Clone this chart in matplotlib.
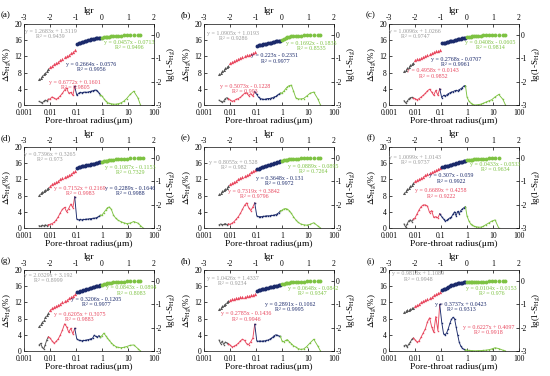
import matplotlib
matplotlib.use("Agg")
import matplotlib.pyplot as plt
from matplotlib.ticker import NullLocator

plt.rcParams['font.family'] = ['Liberation Serif', 'DejaVu Serif']
plt.rcParams['mathtext.fontset'] = 'stix'
plt.rcParams['axes.unicode_minus'] = False

# lgr of the injection steps, shared by all nine samples
LGR = [-2.42, -2.36, -2.30, -2.24, -2.18, -2.12, -2.06,
       -2.00, -1.92, -1.84, -1.76, -1.68, -1.60, -1.52, -1.44, -1.36, -1.28, -1.20, -1.12, -1.05,
       -0.97, -0.90, -0.84, -0.78, -0.72, -0.66, -0.60, -0.54, -0.48, -0.42, -0.36, -0.30,
       -0.24, -0.18, -0.12, -0.06,
       0.00, 0.07, 0.14, 0.21, 0.28, 0.36, 0.44, 0.53, 0.62, 0.72, 0.83, 0.95, 1.08, 1.22,
       1.38, 1.48, 1.58]
SEG = [7, 20, 36]  # first step of the red, navy and green parts

XTICKS = [0.001, 0.01, 0.1, 1, 10, 100]
XTICK_LABELS = ['0.001', '0.01', '0.1', '1', '10', '100']
PANELS = ['(a)', '(b)', '(c)', '(d)', '(e)', '(f)', '(g)', '(h)', '(i)']

# delta S_Hg (%) per step
ds_a = [0.9, 0.7, 0.5, 0.9, 1.2, 1.0, 1.4,
        1.5, 2.0, 1.7, 1.4, 1.8, 2.3, 2.9, 3.7, 4.2, 2.9, 3.1, 2.4, 4.6,
        2.4, 2.9, 3.1, 3.0, 3.1, 3.2, 3.1, 3.2, 3.3, 3.4, 3.5, 3.6, 3.7, 3.5, 3.0, 2.5,
        2.2, 1.6, 1.0, 0.6, 0.4, 0.3, 0.2, 0.2, 0.3, 0.5, 0.9, 1.6, 2.6, 3.4, 1.8, 0.0]
ds_b = [1.2, 0.9, 0.7, 1.0, 1.6, 1.8, 1.6,
        1.3, 0.9, 1.1, 1.4, 1.6, 1.9, 2.4, 2.9, 3.0, 2.3, 2.8, 2.2, 3.3,
        2.6, 1.9, 1.6, 1.5, 1.4, 1.4, 1.5, 1.6, 1.6, 1.7, 1.8, 2.0, 2.1, 2.4, 2.7, 2.9,
        3.0, 3.4, 4.0, 4.5, 4.8, 4.9, 3.5, 1.8, 1.5, 1.5, 1.6, 2.2, 2.9, 3.2, 1.5, 0.0]
ds_c = [1.1, 0.5, 0.9, 1.5, 1.8, 1.9, 1.7,
        1.6, 1.3, 1.6, 2.0, 2.4, 2.9, 3.5, 3.9, 3.2, 2.4, 3.6, 2.4, 4.0,
        1.8, 2.4, 2.2, 2.5, 2.8, 3.0, 3.2, 3.3, 3.5, 3.6, 3.5, 3.8, 4.0, 4.3, 4.7, 4.8,
        2.0, 1.0, 0.5, 0.2, 0.0, 0.0, 0.1, 0.2, 0.4, 0.7, 1.0, 1.3, 2.0, 2.6, 1.4, 0.0]
ds_d = [0.6, 0.4, 0.7, 0.5, 0.8, 0.6, 0.8,
        0.9, 1.1, 1.4, 2.0, 2.8, 3.8, 4.6, 5.1, 4.0, 4.8, 5.9, 5.0, 7.7,
        2.2, 2.0, 2.1, 2.0, 2.1, 2.1, 2.2, 2.2, 2.3, 2.3, 2.4, 2.4, 2.5, 2.6, 2.9, 3.1,
        3.2, 3.8, 4.4, 5.0, 5.2, 4.6, 3.2, 2.4, 1.9, 1.6, 1.3, 1.1, 1.2, 1.6, 1.2, 0.6, 0.0]
ds_e = [0.8, 1.0, 0.8, 0.9, 1.1, 0.8, 1.0,
        0.9, 1.2, 1.6, 2.2, 2.8, 3.6, 4.6, 5.6, 6.2, 5.0, 4.3, 5.2, 6.2,
        3.0, 2.8, 2.8, 2.8, 2.9, 2.9, 3.0, 3.0, 3.0, 3.1, 3.1, 3.2, 3.3, 3.5, 3.8, 4.2,
        4.4, 4.7, 4.8, 4.6, 4.3, 3.6, 2.8, 2.0, 1.4, 1.0, 0.8, 0.7, 0.9, 1.3, 0.5, 0.0]
ds_f = [1.0, 0.2, 1.0, 1.8, 2.0, 1.6, 2.2,
        2.5, 3.5, 4.5, 5.3, 5.7, 5.7, 5.4, 3.8, 4.3, 2.6, 2.8, 2.5, 3.5,
        2.8, 2.2, 1.7, 1.9, 2.2, 2.5, 2.7, 3.4, 4.0, 3.0, 4.1, 3.5, 4.3, 4.7, 5.0, 5.3,
        3.0, 1.8, 1.0, 0.7, 0.4, 0.3, 0.2, 0.2, 0.4, 0.8, 1.2, 1.7, 2.0, 0.0]
ds_g = [1.5, 1.9, 0.9, 0.5, 1.6, 2.8, 3.5,
        3.2, 2.5, 1.9, 2.4, 3.0, 4.0, 5.2, 6.7, 6.0, 4.6, 5.6, 4.2, 5.6,
        3.0, 2.7, 2.6, 2.5, 2.6, 2.6, 2.7, 2.8, 2.9, 3.0, 3.2, 3.9, 3.6, 3.4, 3.8, 3.5,
        3.8, 4.4, 3.8, 3.2, 2.6, 2.0, 1.5, 1.1, 0.9, 0.8, 0.9, 1.1, 1.4, 1.5, 0.6, 0.0]
ds_h = [2.7, 1.8, 2.4, 1.6, 2.2, 2.0, 1.8,
        1.5, 1.0, 1.2, 1.5, 1.9, 2.5, 2.9, 2.6, 1.8, 1.6, 2.3, 3.2, 6.6,
        2.5, 2.4, 2.5, 2.4, 2.5, 2.5, 2.6, 2.7, 2.9, 3.1, 3.4, 3.8, 4.0, 3.9, 3.7, 3.6,
        2.5, 2.3, 2.6, 2.8, 2.3, 1.8, 1.3, 1.0, 0.6, 0.4, 0.5, 1.1, 2.0, 2.9, 1.2, 0.0]
ds_i = [1.3, 1.5, 1.0, 1.7, 2.2, 2.9, 3.2,
        2.8, 2.2, 2.5, 3.5, 4.5, 5.5, 7.2, 8.2, 6.0, 4.6, 8.5, 5.0, 11.5,
        7.0, 4.2, 4.0, 4.5, 5.5, 6.8, 7.8, 8.3, 8.0, 6.0, 4.0, 2.2, 1.2, 0.7, 0.4, 0.3,
        0.2, 0.15, 0.1, 0.1, 0.05, 0.05, 0.1, 0.1, 0.15, 0.2, 0.3, 0.5, 0.8, 0.6, 0.2, 0.0]

# lg(1-S_Hg) per step
lg_a = [-1.90, -1.83, -1.76, -1.69, -1.62, -1.55, -1.48,
        -1.40, -1.33, -1.27, -1.21, -1.15, -1.09, -1.03, -0.97, -0.91, -0.85, -0.79, -0.73, -0.66,
        -0.40, -0.37, -0.345, -0.32, -0.30, -0.28, -0.26, -0.24, -0.22, -0.205, -0.19, -0.175,
        -0.16, -0.15, -0.14, -0.13,
        -0.125, -0.115, -0.105, -0.095, -0.085, -0.075, -0.066, -0.058, -0.051, -0.045, -0.039,
        -0.034, -0.03, -0.026, -0.023, -0.02]
lg_b = [-1.70, -1.63, -1.57, -1.50, -1.44, -1.38, -1.32,
        -1.22, -1.17, -1.13, -1.09, -1.05, -1.01, -0.97, -0.93, -0.89, -0.85, -0.81, -0.77, -0.74,
        -0.48, -0.46, -0.445, -0.43, -0.415, -0.40, -0.385, -0.37, -0.355, -0.34, -0.325, -0.31,
        -0.295, -0.28, -0.27, -0.26,
        -0.23, -0.18, -0.14, -0.11, -0.09, -0.075, -0.065, -0.055, -0.047, -0.04, -0.034,
        -0.028, -0.023, -0.018, -0.014, -0.01]
lg_c = [-1.55, -1.49, -1.43, -1.37, -1.31, -1.25, -1.19,
        -1.10, -1.06, -1.02, -0.98, -0.94, -0.90, -0.86, -0.82, -0.79, -0.75, -0.72, -0.68, -0.65,
        -0.38, -0.36, -0.34, -0.32, -0.30, -0.285, -0.27, -0.255, -0.24, -0.225, -0.21, -0.195,
        -0.18, -0.165, -0.15, -0.14,
        -0.12, -0.10, -0.085, -0.072, -0.062, -0.053, -0.046, -0.04, -0.034, -0.029, -0.024,
        -0.02, -0.016, -0.012, -0.008, -0.005]
lg_d = [-1.58, -1.53, -1.48, -1.43, -1.38, -1.33, -1.28,
        -1.20, -1.14, -1.08, -1.03, -0.98, -0.93, -0.88, -0.83, -0.78, -0.73, -0.68, -0.63, -0.58,
        -0.44, -0.42, -0.40, -0.38, -0.36, -0.345, -0.33, -0.315, -0.30, -0.285, -0.27, -0.255,
        -0.24, -0.225, -0.21, -0.195,
        -0.18, -0.16, -0.145, -0.13, -0.115, -0.10, -0.09, -0.08, -0.07, -0.06, -0.052,
        -0.045, -0.038, -0.032, -0.027, -0.022, -0.018]
lg_e = [-1.55, -1.49, -1.43, -1.38, -1.33, -1.28, -1.23,
        -1.13, -1.08, -1.03, -0.98, -0.93, -0.88, -0.83, -0.78, -0.73, -0.68, -0.63, -0.58, -0.53,
        -0.50, -0.47, -0.44, -0.415, -0.39, -0.365, -0.34, -0.32, -0.30, -0.28, -0.26, -0.24,
        -0.22, -0.20, -0.18, -0.16,
        -0.14, -0.12, -0.105, -0.09, -0.08, -0.07, -0.06, -0.052, -0.045, -0.038, -0.032,
        -0.027, -0.022, -0.018, -0.014, -0.01]
lg_f = [-1.50, -1.43, -1.36, -1.29, -1.22, -1.15, -1.08,
        -1.01, -0.96, -0.91, -0.86, -0.81, -0.76, -0.71, -0.66, -0.61, -0.56, -0.52, -0.48, -0.44,
        -0.42, -0.40, -0.38, -0.36, -0.34, -0.32, -0.30, -0.28, -0.26, -0.24, -0.22, -0.20,
        -0.185, -0.17, -0.155, -0.14,
        -0.12, -0.105, -0.095, -0.085, -0.077, -0.07, -0.063, -0.057, -0.05, -0.044, -0.038,
        -0.032, -0.026, -0.02]
lg_g = [-1.93, -1.84, -1.75, -1.66, -1.57, -1.48, -1.39,
        -1.24, -1.18, -1.13, -1.08, -1.03, -0.98, -0.92, -0.86, -0.81, -0.75, -0.69, -0.64, -0.59,
        -0.50, -0.47, -0.45, -0.43, -0.41, -0.39, -0.37, -0.35, -0.33, -0.31, -0.29, -0.27,
        -0.25, -0.23, -0.215, -0.20,
        -0.17, -0.15, -0.13, -0.115, -0.10, -0.09, -0.08, -0.07, -0.06, -0.052, -0.044,
        -0.037, -0.03, -0.024, -0.018, -0.012]
lg_h = [-1.22, -1.16, -1.10, -1.04, -0.98, -0.93, -0.88,
        -0.82, -0.80, -0.78, -0.76, -0.74, -0.72, -0.70, -0.68, -0.66, -0.64, -0.62, -0.60, -0.58,
        -0.43, -0.41, -0.39, -0.37, -0.355, -0.34, -0.325, -0.31, -0.295, -0.28, -0.265, -0.25,
        -0.235, -0.22, -0.205, -0.19,
        -0.15, -0.13, -0.115, -0.10, -0.09, -0.08, -0.07, -0.062, -0.055, -0.048, -0.042,
        -0.036, -0.03, -0.025, -0.02, -0.015]
lg_i = [-1.35, -1.31, -1.27, -1.24, -1.21, -1.18, -1.15,
        -1.08, -1.03, -0.98, -0.93, -0.88, -0.83, -0.78, -0.73, -0.68, -0.63, -0.58, -0.54, -0.50,
        -0.42, -0.38, -0.34, -0.30, -0.27, -0.24, -0.21, -0.185, -0.16, -0.14, -0.12, -0.105,
        -0.095, -0.085, -0.08, -0.075,
        -0.07, -0.066, -0.062, -0.058, -0.055, -0.052, -0.049, -0.046, -0.043, -0.04, -0.037,
        -0.034, -0.031, -0.028, -0.025, -0.022]

# fitted equations, order: gray, red, navy, green
eq_a = ['y = 1.2683x + 1.3119\nR² = 0.9439', 'y = 0.6772x + 0.1601\nR² = 0.9805',
        'y = 0.2664x - 0.0576\nR² = 0.9956', 'y = 0.0457x - 0.0713\nR² = 0.9496']
eq_b = ['y = 1.0905x + 1.0193\nR² = 0.9286', 'y = 0.5073x - 0.1228\nR² = 0.993',
        'y = 0.223x - 0.2351\nR² = 0.9977', 'y = 0.1692x - 0.1835\nR² = 0.8535']
eq_c = ['y = 1.0096x + 1.0266\nR² = 0.9747', 'y = 0.4958x + 0.0143\nR² = 0.9852',
        'y = 0.2768x - 0.0707\nR² = 0.9961', 'y = 0.0408x - 0.0605\nR² = 0.9814']
eq_d = ['y = 0.7396x + 0.3265\nR² = 0.973', 'y = 0.7152x + 0.2169\nR² = 0.9983',
        'y = 0.2289x - 0.1646\nR² = 0.9988', 'y = 0.1087x - 0.1153\nR² = 0.7329']
eq_e = ['y = 0.8055x + 0.528\nR² = 0.982', 'y = 0.7319x + 0.3842\nR² = 0.9796',
        'y = 0.3648x - 0.131\nR² = 0.9972', 'y = 0.0889x - 0.0895\nR² = 0.7264']
eq_f = ['y = 1.0099x + 1.0143\nR² = 0.9737', 'y = 0.6689x + 0.4258\nR² = 0.9222',
        'y = 0.307x - 0.059\nR² = 0.9922', 'y = 0.0433x - 0.0533\nR² = 0.9634']
eq_g = ['y = 2.0329x + 3.192\nR² = 0.8999', 'y = 0.6205x + 0.3075\nR² = 0.9883',
        'y = 0.3206x - 0.1205\nR² = 0.9977', 'y = 0.0843x - 0.0894\nR² = 0.8083']
eq_h = ['y = 1.0426x + 1.4337\nR² = 0.9234', 'y = 0.2785x - 0.1436\nR² = 0.9946',
        'y = 0.2891x - 0.1062\nR² = 0.9995', 'y = 0.0648x - 0.0842\nR² = 0.9347']
eq_i = ['y = 0.9818x + 1.1089\nR² = 0.9948', 'y = 0.6227x + 0.4097\nR² = 0.9918',
        'y = 0.3737x + 0.0423\nR² = 0.9313', 'y = 0.0104x - 0.0153\nR² = 0.976']

DS = [ds_a, ds_b, ds_c, ds_d, ds_e, ds_f, ds_g, ds_h, ds_i]
LG = [lg_a, lg_b, lg_c, lg_d, lg_e, lg_f, lg_g, lg_h, lg_i]
EQ = [eq_a, eq_b, eq_c, eq_d, eq_e, eq_f, eq_g, eq_h, eq_i]

# where the equations sit (axes fraction), gray, red, navy, green
EQ_POS = [[(0.205, 0.88), (0.395, 0.25), (0.52, 0.47), (0.81, 0.74)],
          [(0.226, 0.855), (0.315, 0.20), (0.546, 0.573), (0.828, 0.73)],
          [(0.20, 0.88), (0.341, 0.39), (0.513, 0.527), (0.777, 0.739)],
          [(0.195, 0.88), (0.43, 0.457), (0.815, 0.457), (0.815, 0.716)],
          [(0.226, 0.778), (0.385, 0.417), (0.58, 0.578), (0.84, 0.726)],
          [(0.20, 0.844), (0.40, 0.426), (0.477, 0.61), (0.815, 0.754)],
          [(0.187, 0.90), (0.426, 0.415), (0.554, 0.606), (0.828, 0.747)],
          [(0.22, 0.863), (0.328, 0.427), (0.66, 0.539), (0.836, 0.739)],
          [(0.226, 0.92), (0.764, 0.26), (0.554, 0.547), (0.79, 0.74)]]

COLS = ['#555555', '#e8485f', '#1b2a6b', '#7dc242']
TXT = ['#9a9a9a', '#e8485f', '#1b2a6b', '#7dc242']
MARK = ['^', '^', 'o', 'o']
MS = [2.2, 2.4, 2.8, 2.8]

fig = plt.figure(figsize=(5.5, 3.76), dpi=100)
lefts = [24, 204, 389]
tops = [24, 147, 270]
W, H = 130, 81

for p in range(9):
    col, row = p % 3, p // 3
    rect = [lefts[col] / 550, 1 - (tops[row] + H) / 376, W / 550, H / 376]
    ax = fig.add_axes(rect)
    ds, lg = DS[p], LG[p]
    n = len(ds)
    r = [10 ** v for v in LGR[:n]]
    bounds = [0] + SEG + [n]

    for k in range(4):
        s = max(bounds[k] - 1, 0)
        e = bounds[k + 1]
        ax.plot(r[s:e], ds[s:e], color=COLS[k], lw=0.65, marker='s', ms=1.0, mew=0)

    ax.set_xscale('log')
    ax.set_xlim(0.001, 100)
    ax.set_ylim(0, 20)
    ax.set_xticks(XTICKS)
    ax.set_xticklabels(XTICK_LABELS)
    ax.xaxis.set_minor_locator(NullLocator())
    ax.set_yticks([0, 4, 8, 12, 16, 20])
    ax.tick_params(direction='in', length=2, width=0.5, labelsize=5.5, pad=1.5)
    ax.tick_params(axis='x', pad=2.8)
    ax.set_xlabel('Pore-throat radius(μm)', fontsize=6.8, labelpad=0.3)
    ax.set_ylabel(r'$\Delta$S$_{\rm Hg}$(%)', fontsize=6.5, labelpad=1)
    for sp in ax.spines.values():
        sp.set_linewidth(0.6)
        sp.set_color('#333333')
    ax.text(-0.14, 1.11, PANELS[p], transform=ax.transAxes, fontsize=6.5,
            ha='center', va='center')

    axt = fig.add_axes(rect, frameon=False)
    axt.patch.set_alpha(0)
    for k in range(4):
        s = bounds[k]
        e = bounds[k + 1]
        axt.plot(LGR[s:e], lg[s:e], ls='none', marker=MARK[k], ms=MS[k],
                 color=COLS[k], mew=0)
    axt.set_xlim(-3, 2)
    axt.set_ylim(-3, 0.45)
    axt.xaxis.tick_top()
    axt.xaxis.set_label_position('top')
    axt.yaxis.tick_right()
    axt.yaxis.set_label_position('right')
    axt.set_xticks([-3, -2, -1, 0, 1, 2])
    axt.set_yticks([-3, -2, -1, 0])
    axt.tick_params(direction='in', length=2, width=0.5, labelsize=5.5, pad=1.5)
    axt.set_xlabel('lgr', fontsize=6.8, labelpad=1)
    axt.set_ylabel(r'lg(1-S$_{\rm Hg}$)', fontsize=6.5, labelpad=2)

    for k in range(4):
        fx, fy = EQ_POS[p][k]
        axt.text(fx, fy, EQ[p][k], transform=axt.transAxes, ha='center',
                 va='center', fontsize=4.3, color=TXT[k], linespacing=1.05)

fig.savefig('out.png', dpi=100)
